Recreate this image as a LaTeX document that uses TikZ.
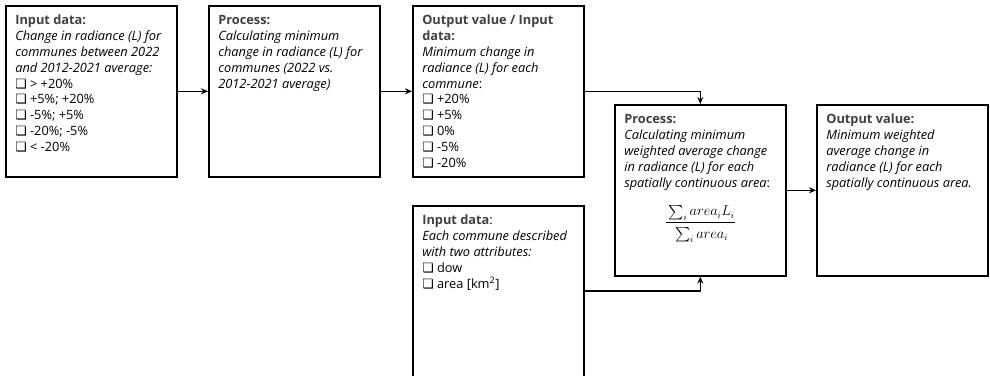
\documentclass[tikz,border=0pt]{standalone}
\usepackage{fontspec}
\setmainfont{Open Sans}
\newfontfamily\symfont{DejaVu Sans}
\usepackage{amsmath}
\usetikzlibrary{arrows.meta}

\newcommand{\chk}{{\symfont\char"274F}\ }
\newcommand{\heading}[1]{\textcolor{black!75}{\textbf{#1}}}
\newcommand{\boxbody}[2]{\parbox[c][#1][t]{152pt}{\raggedright\strut #2}}

\begin{document}
\begin{tikzpicture}[
    x=1pt, y=-1pt,
    stage/.style={
      draw,
      line width=1.6pt,
      anchor=north west,
      inner xsep=9pt,
      inner ysep=8pt,
      minimum width=171pt,
      font=\fontsize{12.8}{15.8}\selectfont
    },
    flow/.style={
      line width=1.6pt,
      -{Stealth[length=7pt,width=6pt]}
    }
  ]
  \clip (0,0) rectangle (990,375);

  % first row
  \node[stage] (indata) at (5,5) {\boxbody{155pt}{%
    \heading{Input data:}\\
    \textit{Change in radiance (L) for}\\
    \textit{communes between 2022}\\
    \textit{and 2012-2021 average:}\\
    \chk > +20\%\\
    \chk +5\%; +20\%\\
    \chk -5\%; +5\%\\
    \chk -20\%; -5\%\\
    \chk < -20\%}};

  \node[stage] (minchange) at (208,5) {\boxbody{155pt}{%
    \heading{Process:}\\
    \textit{Calculating minimum}\\
    \textit{change in radiance (L) for}\\
    \textit{communes (2022 vs.}\\
    \textit{2012-2021 average)}}};

  \node[stage] (outcommune) at (412,5) {\boxbody{155pt}{%
    \heading{Output value / Input}\\
    \heading{data:}\\
    \textit{Minimum change in}\\
    \textit{radiance (L) for each}\\
    \textit{commune}:\\
    \chk +20\%\\
    \chk +5\%\\
    \chk 0\%\\
    \chk -5\%\\
    \chk -20\%}};

  % second row
  \node[stage] (weighted) at (614,104) {\boxbody{155pt}{%
    \heading{Process:}\\
    \textit{Calculating minimum}\\
    \textit{weighted average change}\\
    \textit{in radiance (L) for each}\\
    \textit{spatially continuous area}:\par
    \vspace{14pt}
    {\centering\fontsize{13.5}{17}\selectfont
      $\dfrac{\rule[-4pt]{0pt}{4pt}\sum_i area_i L_i}
             {\rule{0pt}{14pt}\sum_i area_i}$\par}}};

  \node[stage] (outarea) at (816,104) {\boxbody{155pt}{%
    \heading{Output value:}\\
    \textit{Minimum weighted}\\
    \textit{average change in}\\
    \textit{radiance (L) for each}\\
    \textit{spatially continuous area.}}};

  \node[stage] (attrs) at (412,205) {\boxbody{170pt}{%
    \heading{Input data}:\\
    \textit{Each commune described}\\
    \textit{with two attributes:}\\
    \chk dow\\
    \chk area [km\textsuperscript{2}]}};

  \coordinate (attrsout) at ([yshift=-86pt]attrs.north east);

  % connectors
  \draw[flow] (indata) -- (minchange);
  \draw[flow] (minchange) -- (outcommune);
  \draw[flow] (outcommune) -| (weighted);
  \draw[flow] (weighted) -- (outarea);
  \draw[flow] (attrsout) -| (weighted);
\end{tikzpicture}
\end{document}
